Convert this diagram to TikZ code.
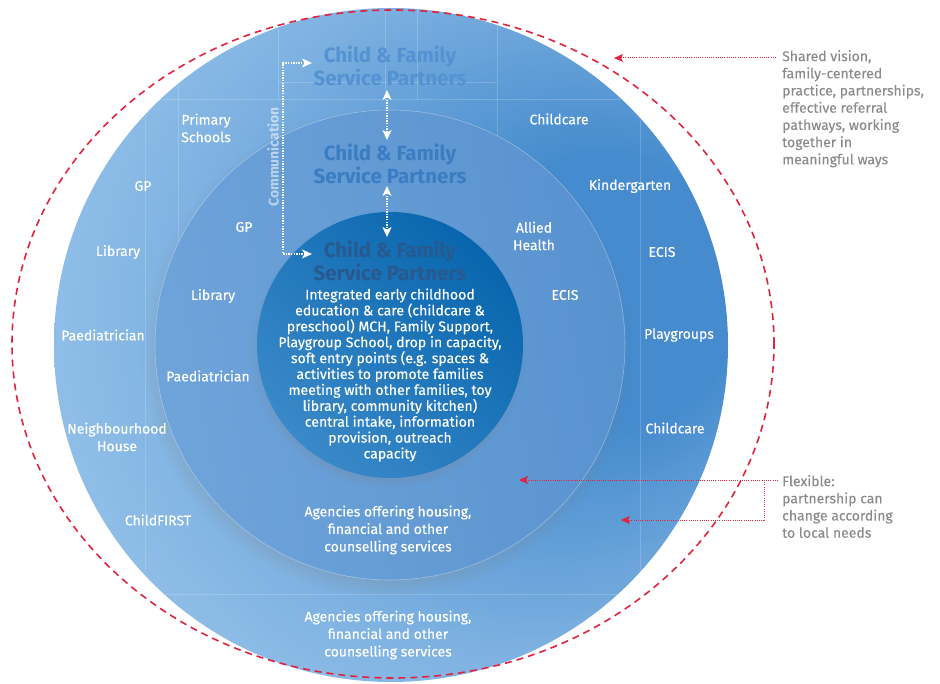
\documentclass[tikz,border=0pt]{standalone}
\usepackage{fontspec}
\setmainfont{Fira Sans}
\newfontfamily\heavyfont{Fira Sans}[FakeBold=0.35]
\newfontfamily\notefont{Fira Sans}[FakeBold=0.15]
\usetikzlibrary{arrows.meta,shadows,calc}
\definecolor{outerL}{HTML}{A2CBEE}
\definecolor{outerM}{HTML}{80B3E2}
\definecolor{outerD}{HTML}{458BCD}
\definecolor{midL}{HTML}{6FA4DA}
\definecolor{midD}{HTML}{5892CF}
\definecolor{innL}{HTML}{3A89C8}
\definecolor{innD}{HTML}{0866AE}
\definecolor{tOne}{HTML}{5592D2}
\definecolor{tTwo}{HTML}{3B7DC3}
\definecolor{tThree}{HTML}{28598F}
\definecolor{redline}{HTML}{E2233F}
\definecolor{notegray}{HTML}{8A8A8A}
\pgfdeclareradialshading{outershade}{\pgfpoint{20bp}{5bp}}{color(0bp)=(outerD); color(10bp)=(outerD); color(26bp)=(outerM); color(40bp)=(outerL); color(50bp)=(outerL)}
\begin{document}
\begin{tikzpicture}[x=1pt,y=-1pt,
  ring/.style={circle, inner sep=0pt},
  lab/.style={text=white, font=\heavyfont\fontsize{14}{17.5}\selectfont, align=center, inner sep=1pt},
  body/.style={text=white, font=\heavyfont\fontsize{14.1}{15.9}\selectfont, align=center, inner sep=1pt},
  ttl/.style={font=\fontsize{20.5}{22.5}\selectfont\bfseries, align=center, inner sep=1pt},
  note/.style={text=notegray, font=\notefont\fontsize{14}{17.2}\selectfont, align=left, anchor=north west, inner sep=0pt},
  wdot/.style={white, line width=1.3pt, dash pattern=on 1.3pt off 1.3pt},
  wtips/.style={{Stealth[length=10pt,width=9pt,inset=2.5pt]}-{Stealth[length=10pt,width=9pt,inset=2.5pt]}},
  rdot/.style={redline, line width=1pt, dash pattern=on 1pt off 1.2pt, -{Stealth[length=9pt,width=8pt,inset=2pt]}},
  rdash/.style={redline, line width=1.6pt, dash pattern=on 7pt off 5pt},
  grid/.style={white, opacity=0.18, line width=0.8pt}
]
\useasboundingbox (0,0) rectangle (940,684);

% outer ring
\node[ring, minimum size=674pt, shading=outershade] (outer) at (391,345) {};
\begin{scope}
  \clip (391,345) circle [radius=337pt];
  \draw[grid] (145,100) -- (145,570);
  \draw[grid] (178,85) -- (178,245);
  \draw[grid] (278,30) -- (278,100);
  \draw[grid] (385,5) -- (385,100);
  \draw[grid] (417,5) -- (417,100);
  \draw[grid] (497,25) -- (497,245);
  \draw[grid] (640,120) -- (640,575);
  \draw[grid] (160,99) -- (620,99);
  \draw[grid] (278,82) -- (497,82);
  \draw[grid] (165,594) -- (620,594);
\end{scope}

% middle ring
\node[ring, minimum size=470pt, top color=midD, bottom color=midL, shading angle=-80,
  draw=white, draw opacity=0.35, line width=0.6pt,
  circular drop shadow={shadow xshift=-3pt, shadow yshift=-7pt, shadow scale=1.04, opacity=0.45}] (middle) at (390,345) {};

% inner disc
\node[ring, minimum size=266pt, top color=innD, bottom color=innL, shading angle=-45,
  circular drop shadow={shadow xshift=-2pt, shadow yshift=-5pt, shadow scale=1.04, opacity=0.4}] (inner) at (390,345) {};

% red dashed ellipse
\draw[rdash] (393,344) ellipse [x radius=381pt, y radius=334pt];

% titles
\node[ttl, text=tOne] (t1) at (390,66) {Child \& Family\\Service Partners};
\node[ttl, text=tTwo] (t2) at (390,164) {Child \& Family\\Service Partners};
\node[ttl, text=tThree] (t3) at (390,261) {Child \& Family\\Service Partners};

% communication
\node[text=white, text opacity=0.55, font=\fontsize{14}{16}\selectfont\bfseries, rotate=90, inner sep=1pt] (comm) at (273,157) {Communication};
\coordinate (ctop) at (283,63);
\coordinate (cbot) at (283,254);
\coordinate (ttip) at (312,63);
\coordinate (btip) at (312,254);
\draw[wdot, wtips] (ttip) -- (ctop) -- (cbot) -- (btip);
\draw[wdot, wtips] ([xshift=-3pt,yshift=-3pt]t1.south) -- ([xshift=-3pt,yshift=3pt]t2.north);
\draw[wdot, wtips] ([xshift=-3pt,yshift=-1pt]t2.south) -- ([xshift=-3pt,yshift=3pt]t3.north);

% inner body text
\node[body] (core) at (390,375) {Integrated early childhood\\education \& care (childcare \&\\preschool) MCH, Family Support,\\Playgroup School, drop in capacity,\\soft entry points (e.g. spaces \&\\activities to promote families\\meeting with other families, toy\\library, community kitchen)\\central intake, information\\provision, outreach\\capacity};

% middle ring labels
\node[lab] (mgp) at (244,227) {GP};
\node[lab] (mlib) at (213,296) {Library};
\node[lab] (mpaed) at (208,376) {Paediatrician};
\node[lab] (mallied) at (534,236) {Allied\\Health};
\node[lab] (mecis) at (565,295) {ECIS};
\node[lab] (magency) at (388,530) {Agencies offering housing,\\financial and other\\counselling services};

% outer ring labels
\node[lab] (oprim) at (206,128) {Primary\\Schools};
\node[lab] (ogp) at (143,186) {GP};
\node[lab] (olib) at (118,252) {Library};
\node[lab] (opaed) at (103,335) {Paediatrician};
\node[lab] (oneigh) at (117,437) {Neighbourhood\\House};
\node[lab] (ochild) at (158,520) {ChildFIRST};
\node[lab] (occ1) at (559,119) {Childcare};
\node[lab] (okind) at (630,186) {Kindergarten};
\node[lab] (oecis) at (662,252) {ECIS};
\node[lab] (oplay) at (679,335) {Playgroups};
\node[lab] (occ2) at (675,428) {Childcare};
\node[lab] (oagency) at (388,635) {Agencies offering housing,\\financial and other\\counselling services};

% annotations
\node[note] (shared) at (782,50) {Shared vision,\\family-centered\\practice, partnerships,\\effective referral\\pathways, working\\together in\\meaningful ways};
\node[note] (flex) at (782,475) {Flexible:\\partnership can\\change according\\to local needs};

\coordinate (sv) at (614,58);
\draw[rdot] ([xshift=-6pt]shared.north west |- sv) -- (sv);
\coordinate (f1) at (519,480);
\coordinate (fj) at (764,480);
\coordinate (f2) at (621,520);
\draw[rdot] ([xshift=-4pt]flex.north west |- f1) -- (f1);
\draw[rdot] (fj) |- (f2);
\end{tikzpicture}
\end{document}
